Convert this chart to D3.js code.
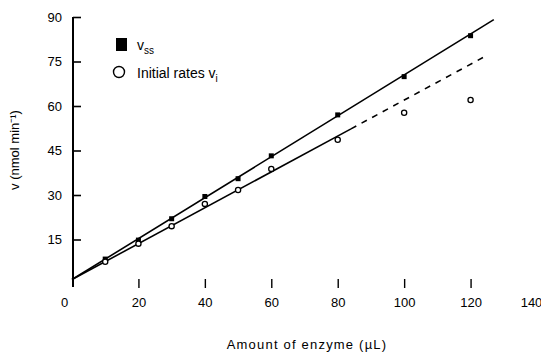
<!DOCTYPE html>
<html><head><meta charset="utf-8">
<script src="https://cdn.jsdelivr.net/npm/d3@7"></script>
<style>
html,body{margin:0;padding:0;background:#fff;}
svg{display:block;font-family:"Liberation Sans",Arial,sans-serif;}
</style></head>
<body>
<svg id="chart" width="541" height="356"></svg>
<script>
// ---- data ----
const xTicks = [0, 20, 40, 60, 80, 100, 120, 140];
const yTicks = [15, 30, 45, 60, 75, 90];
const ssX = [10, 20, 30, 40, 50, 60, 80, 100, 120];
const ssY = [8.4, 14.8, 22.0, 29.5, 35.5, 43.2, 57.0, 69.9, 83.7];
const viX = [10, 20, 30, 40, 50, 60, 80, 100, 120];
const viY = [7.5, 13.6, 19.5, 27.0, 31.7, 38.8, 48.6, 57.7, 62.0];
const ssLineX = [0, 127];
const ssLineY = [1.5, 89.1];
const viSolidX = [0, 84];
const viSolidY = [1.5, 52.3];
const viDashX = [84, 124];
const viDashY = [52.3, 76.5];
const legendLabels = ["v", "Initial rates v"];
const legendSubs = ["ss", "i"];
const xTitle = "Amount of enzyme (µL)";
const yTitle = "v (nmol min⁻¹)";

// ---- layout ----
const svg = d3.select("#chart");
const x = d3.scaleLinear().domain([0, 140]).range([72, 537]);
const y = d3.scaleLinear().domain([0, 90]).range([284, 17]);

// y axis
const yAxis = d3.axisLeft(y).tickValues(yTicks).tickSize(-8).tickSizeOuter(0).tickPadding(11);
const gy = svg.append("g").attr("transform", "translate(73,0)").call(yAxis);
gy.select(".domain").attr("d", `M0,${y(90)}V287`).attr("stroke", "#000").attr("stroke-width", 2);
gy.selectAll(".tick line").attr("stroke", "#000").attr("stroke-width", 1.6);
gy.selectAll("text").attr("font-size", 13).attr("fill", "#000");

// x axis (ticks only, no base line as in reference)
const xAxis = d3.axisBottom(x).tickValues(xTicks).tickSize(9).tickSizeOuter(0).tickPadding(10);
const gx = svg.append("g").attr("transform", "translate(0,279)").call(xAxis);
gx.select(".domain").remove();
gx.selectAll(".tick line").attr("stroke", "#000").attr("stroke-width", 1.4)
  .attr("display", d => d === 0 || d === 140 ? "none" : null);
gx.selectAll("text").attr("font-size", 13).attr("fill", "#000")
  .attr("dx", d => d === 0 ? -8 : (d === 140 ? -6 : 0));

// axis titles
svg.append("text").attr("x", 307).attr("y", 349).attr("text-anchor", "middle")
  .attr("font-size", 13).attr("letter-spacing", 1.2).text(xTitle);
svg.append("text").attr("transform", "translate(19,150) rotate(-90)")
  .attr("text-anchor", "middle").attr("font-size", 13).text(yTitle);

// lines
const line = d3.line().x(d => x(d[0])).y(d => y(d[1]));
const zip = (a, b) => a.map((v, i) => [v, b[i]]);
svg.append("path").attr("d", line(zip(ssLineX, ssLineY)))
  .attr("fill", "none").attr("stroke", "#000").attr("stroke-width", 1.6);
svg.append("path").attr("d", line(zip(viSolidX, viSolidY)))
  .attr("fill", "none").attr("stroke", "#000").attr("stroke-width", 1.6);
svg.append("path").attr("d", line(zip(viDashX, viDashY)))
  .attr("fill", "none").attr("stroke", "#000").attr("stroke-width", 1.6)
  .attr("stroke-dasharray", "6,6");

// markers
svg.append("g").selectAll("rect").data(zip(ssX, ssY)).join("rect")
  .attr("x", d => x(d[0]) - 2.5).attr("y", d => y(d[1]) - 2.5)
  .attr("width", 5).attr("height", 5).attr("fill", "#000");
svg.append("g").selectAll("circle").data(zip(viX, viY)).join("circle")
  .attr("cx", d => x(d[0])).attr("cy", d => y(d[1])).attr("r", 2.6)
  .attr("fill", "#fff").attr("stroke", "#000").attr("stroke-width", 1.3);

// legend
const lg = svg.append("g");
lg.append("rect").attr("x", 116).attr("y", 38).attr("width", 11).attr("height", 13).attr("fill", "#000");
lg.append("circle").attr("cx", 119).attr("cy", 72).attr("r", 5.5)
  .attr("fill", "#fff").attr("stroke", "#000").attr("stroke-width", 1.4);
legendLabels.forEach((lab, i) => {
  const t = lg.append("text").attr("x", 137).attr("y", i === 0 ? 50 : 78).attr("font-size", 14);
  t.append("tspan").text(lab);
  t.append("tspan").attr("dy", 4).attr("font-size", 10).text(legendSubs[i]);
});
</script>
</body></html>
